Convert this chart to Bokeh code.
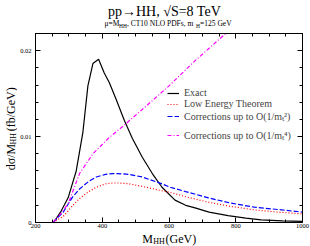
import math
from bokeh.plotting import figure
from bokeh.models import (Range1d, FixedTicker, LinearAxis, Legend, LegendItem)
from bokeh.layouts import column, row
from bokeh.core.properties import value
from bokeh.embed import file_html
from bokeh.resources import INLINE

# ---- data ----
m_exact = [253, 263, 275, 298, 322, 342, 357, 372, 389, 406, 421, 440, 466, 490, 520, 550,
           579, 618, 650, 678, 720, 777, 830, 876, 940, 1000]
v_exact = [0.0, 0.0005, 0.0012, 0.0029, 0.0060, 0.0105, 0.0159, 0.0185, 0.0190, 0.0174,
           0.0163, 0.0145, 0.0119, 0.0098, 0.0076, 0.0057, 0.0041, 0.0026, 0.0020, 0.0017,
           0.0012, 0.00081, 0.00052, 0.00031, 0.00019, 0.00012]

m_let = [253, 265, 283, 310, 332, 360, 382, 410, 431, 451, 480, 520, 579, 604, 650, 718,
         780, 856, 930, 1000]
v_let = [0.0, 0.0003, 0.0007, 0.0019, 0.0028, 0.0036, 0.0041, 0.0045, 0.0046, 0.0046,
         0.0045, 0.0042, 0.0037, 0.0035, 0.0030, 0.00236, 0.0019, 0.00147, 0.0012, 0.0010]

m_c2 = [253, 265, 283, 310, 332, 360, 382, 410, 431, 446, 480, 520, 579, 604, 650, 718,
        780, 856, 930, 1000]
v_c2 = [0.0, 0.0005, 0.0012, 0.0029, 0.0039, 0.0048, 0.0053, 0.0056, 0.0057, 0.0057,
        0.0056, 0.0053, 0.0045, 0.0041, 0.0036, 0.00287, 0.0023, 0.00178, 0.0015, 0.0012]

m_c4 = [253, 265, 275, 298, 332, 372, 421, 465, 530, 600, 680, 770, 800]
v_c4 = [0.0, 0.0006, 0.0010, 0.0022, 0.0057, 0.0080, 0.0099, 0.0113, 0.0135, 0.0159,
        0.0189, 0.0220, 0.0231]

x_major = [200, 400, 600, 800, 1000]
x_minor = [250, 300, 350, 450, 500, 550, 650, 700, 750, 850, 900, 950]
y_major = [0, 0.01, 0.02]
y_minor = [0.002, 0.004, 0.006, 0.008, 0.012, 0.014, 0.016, 0.018, 0.022]
y_labels = {0: "0", 0.01: "0.01", 0.02: "0.02"}

labels = ["Exact", "Low Energy Theorem",
          "Corrections up to O(1/m\u209c\u00b2)", "Corrections up to O(1/m\u209c\u2074)"]

title_text = "pp\u2192HH, \u221aS=8 TeV"
subtitle_parts = ["\u03bc=M", "HH", ", CT10 NLO PDFs, m", "H", "=125 GeV"]
xtitle_parts = ["M", "HH", "(GeV)"]
ytitle_parts = ["d\u03c3/M", "HH", "(fb/GeV)"]

SERIF = "Liberation Serif"
SHIFT = 0.3  # baseline correction for text glyphs, in em


def text_panel(w, h):
    f = figure(width=w, height=h, output_backend="svg", toolbar_location=None,
               x_range=Range1d(0, w), y_range=Range1d(0, h),
               x_axis_location=None, y_axis_location=None, min_border=0)
    f.grid.visible = False
    f.outline_line_color = None
    f.background_fill_color = "white"
    f.border_fill_color = "white"
    return f


def put(f, x, y, txt, size, rotated=False, align="left"):
    s = SHIFT * size
    if rotated:
        x, angle = x - s, math.pi / 2
    else:
        y, angle = y + s, 0.0
    f.text(x=[x], y=[y], text=[txt], angle=angle, text_font=value(SERIF),
           text_font_size=value(f"{size}px"), text_color="black",
           text_align=align, text_baseline="alphabetic")


# ---- main plot ----
p = figure(width=293, height=199, output_backend="svg", toolbar_location=None,
           x_range=Range1d(200, 1000), y_range=Range1d(0, 0.022),
           x_axis_location=None, y_axis_location=None,
           min_border_left=15, min_border_right=8, min_border_top=0, min_border_bottom=10)
p.grid.visible = False
p.outline_line_color = "black"
p.outline_line_width = 1
p.background_fill_color = "white"
p.border_fill_color = "white"


def tick_axis(ticker, side, show, overrides=None, standoff=0):
    ax = LinearAxis(ticker=ticker)
    ax.major_tick_in = 5
    ax.major_tick_out = 0
    ax.minor_tick_in = 3
    ax.minor_tick_out = 0
    ax.axis_line_color = "black"
    ax.major_tick_line_color = "black"
    ax.minor_tick_line_color = "black"
    ax.major_label_text_font = SERIF
    ax.major_label_text_color = "black"
    ax.major_label_standoff = standoff
    if show:
        ax.major_label_text_font_size = "6.5px"
        if overrides:
            ax.major_label_overrides = overrides
    else:
        ax.major_label_text_font_size = "0px"
        ax.major_label_overrides = {t: "" for t in ticker.ticks}
    p.add_layout(ax, side)


xt = FixedTicker(ticks=x_major, minor_ticks=x_minor)
yt = FixedTicker(ticks=y_major, minor_ticks=y_minor)
tick_axis(xt, "below", True, standoff=1)
tick_axis(xt, "above", False)
tick_axis(yt, "left", True, overrides=y_labels, standoff=4)
tick_axis(yt, "right", False)

r1 = p.line(m_exact, v_exact, line_color="black", line_width=1.2)
r2 = p.line(m_let, v_let, line_color="#ff0000", line_width=1.2, line_dash="1 2")
r3 = p.line(m_c2, v_c2, line_color="#0000ff", line_width=1.2, line_dash="5 2")
r4 = p.line(m_c4, v_c4, line_color="#ff00ff", line_width=1.2, line_dash="4 2 1 2")


def make_legend(items, loc, lh, sp):
    lg = Legend(items=items, location=loc, orientation="vertical",
                label_text_font=SERIF, label_text_font_size="10px",
                label_height=lh, glyph_height=lh, glyph_width=12, label_standoff=5,
                spacing=sp, padding=0, margin=0, border_line_alpha=0,
                background_fill_alpha=0)
    p.add_layout(lg)


make_legend([LegendItem(label=labels[0], renderers=[r1]),
             LegendItem(label=labels[1], renderers=[r2])], (132, 113), 10, 0)
make_legend([LegendItem(label=labels[2], renderers=[r3]),
             LegendItem(label=labels[3], renderers=[r4])], (132, 80), 12, 5)

# ---- title block (above) ----
top = text_panel(310, 33)
put(top, 164, 18, title_text, 14, align="center")
put(top, 104, 8, subtitle_parts[0], 7.5)
put(top, 118.6, 6, subtitle_parts[1], 5.5)
put(top, 126.5, 8, subtitle_parts[2], 7.5)
put(top, 195.6, 6, subtitle_parts[3], 5.5)
put(top, 199.6, 8, subtitle_parts[4], 7.5)

# ---- y-axis title (left strip) ----
left = text_panel(17, 199)
put(left, 14.5, 55, ytitle_parts[0], 12, rotated=True)
put(left, 15.6, 82, ytitle_parts[1], 8, rotated=True)
put(left, 14.5, 96, ytitle_parts[2], 12, rotated=True)

# ---- x-axis title (bottom strip) ----
bottom = text_panel(310, 14)
put(bottom, 141.7, 4, xtitle_parts[0], 12)
put(bottom, 152.7, 2.3, xtitle_parts[1], 8)
put(bottom, 165, 4, xtitle_parts[2], 12)

layout = column(top, row(left, p, spacing=0), bottom, spacing=0)
open("out.html", "w").write(file_html(layout, INLINE))
